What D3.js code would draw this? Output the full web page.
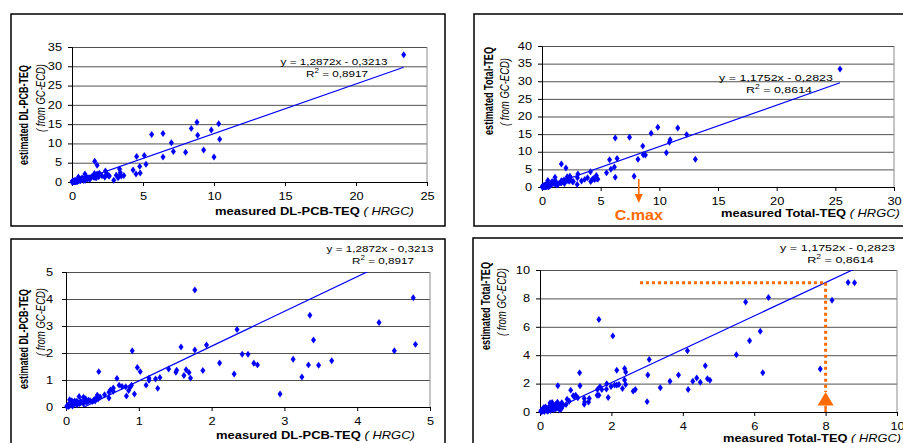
<!DOCTYPE html>
<html>
<head>
<meta charset="utf-8">
<script src="https://cdn.jsdelivr.net/npm/d3@7"></script>
<style>
  body { margin: 0; background: #fff; }
  svg { display: block; font-family: "Liberation Sans", Arial, sans-serif; }
</style>
</head>
<body>
<svg id="chart" width="903" height="443"></svg>
<script>
// measured (HRGC) vs estimated (GC-ECD) DL-PCB-TEQ
var dlPcbPoints = [
  [23.36,33.0],[8.8,15.5],[10.33,15.1],[8.4,13.9],[9.81,13.5],[5.61,12.3],[6.41,12.6],[8.85,12.1],
  [10.4,11.1],[7.0,10.2],[9.27,8.3],[7.14,7.9],[8.0,7.7],[6.41,6.5],[10.0,6.5],[5.09,6.9],[4.55,6.6],
  [5.21,4.6],[1.6,5.4],
  [1.77,4.33],[4.77,4.05],[3.35,3.40],[4.3,3.13],[2.35,2.87],[3.40,2.48],[4.80,2.32],[1.93,2.30],
  [1.58,2.22],[1.77,2.11],[0.91,2.08],[4.51,2.08],[2.42,1.95],[2.50,1.95],[2.11,1.63],[2.58,1.62],
  [2.63,1.56],[3.12,1.77],[3.65,1.71],[3.33,1.56],[3.47,1.55],[0.45,1.31],[0.98,1.46],[1.02,1.31],
  [1.41,1.41],[1.52,1.36],[1.51,1.29],[1.65,1.38],[1.69,1.28],[1.62,1.17],[1.71,1.07],[1.88,1.35],
  [2.31,1.22],[3.24,1.11],[0.70,1.06],[1.14,1.07],[1.14,0.99],[1.23,1.04],[1.29,1.09],[1.10,0.81],
  [1.26,0.69],[2.94,0.48],[0.94,0.48],[0.83,0.41],[0.73,0.81],[0.77,0.76],[0.82,0.75],[0.90,0.81],
  [0.88,0.72],[0.86,0.61],[0.65,0.70],[0.65,0.58],[0.59,0.55],[0.53,0.45],[0.59,0.33],[0.61,0.63],
  [0.43,0.44],[0.42,0.33],[0.39,0.28],[0.31,0.25],[0.27,0.31],[0.18,0.39],[0.24,0.36],[0.05,0.27],
  [0.08,0.23],[0.15,0.21],[0.20,0.21],
  [0.01,0.03],[0.02,0.06],[0.03,0.02],[0.04,0.10],[0.05,0.05],[0.06,0.12],[0.07,0.08],[0.08,0.15],
  [0.09,0.04],[0.10,0.18],[0.11,0.10],[0.12,0.22],[0.13,0.14],[0.15,0.08],[0.16,0.17],[0.18,0.12],
  [0.20,0.15],[0.22,0.19],[0.24,0.12],[0.26,0.22],[0.28,0.18],[0.30,0.20],[0.33,0.23],[0.36,0.20],
  [0.38,0.24],[0.40,0.22],[0.44,0.30],[0.47,0.37]
];

// measured vs estimated Total-TEQ
var totalTeqPoints = [
  [25.4,33.5],[9.87,16.95],[11.57,16.76],[9.30,15.24],[12.33,14.86],[6.24,13.9],[7.46,14.1],
  [10.92,13.4],[10.86,12.67],[8.59,11.6],[10.6,9.7],[13.07,7.9],
  [8.63,9.12],[8.81,9.10],[6.40,8.06],[5.76,7.75],[8.18,7.87],[1.65,6.52],[6.17,5.69],[2.04,5.36],
  [5.87,5.02],[4.13,4.31],[5.50,4.03],[3.06,3.70],[4.63,3.25],[7.85,3.03],[1.11,2.77],[2.15,2.94],
  [2.37,3.06],[2.40,2.82],[6.24,2.77],[3.02,2.61],[3.88,2.61],[4.39,2.39],[4.69,2.35],[4.76,2.23],
  [2.37,2.25],[3.64,2.16],[4.28,2.16],[4.49,2.09],[1.87,1.99],[2.15,1.90],[2.09,1.90],[2.21,1.94],
  [2.40,1.94],[1.99,1.80],[0.50,1.85],[1.12,1.85],[1.68,1.78],[0.86,1.54],[1.61,1.59],[1.73,1.59],
  [1.86,1.61],[2.31,1.66],[2.67,1.59],[2.61,1.47],[3.37,1.71],[4.15,1.59],[1.60,1.18],[1.65,1.18],
  [1.91,1.02],[3.0,0.73],[0.93,1.14],[0.96,1.07],[1.0,1.18],[1.06,1.0],[1.24,0.95],[1.24,0.55],
  [1.38,0.95],[1.36,0.71],[1.25,0.71],[0.76,0.9],[0.82,0.76],[0.73,0.52],[0.61,0.66],[0.49,0.69],
  [0.45,0.57],[0.30,0.59],[0.56,0.36],[0.59,0.24],[0.37,0.36],
  [0.02,0.05],[0.04,0.12],[0.05,0.02],[0.07,0.20],[0.08,0.08],[0.10,0.30],[0.11,0.14],[0.12,0.04],
  [0.14,0.22],[0.15,0.35],[0.17,0.10],[0.19,0.28],[0.20,0.18],[0.22,0.06],[0.24,0.32],[0.25,0.15],
  [0.27,0.24],[0.28,0.64],[0.29,0.10],[0.31,0.40],[0.33,0.20],[0.34,0.67],[0.35,0.28],[0.38,0.15],
  [0.40,0.45],[0.42,0.30],[0.44,0.22],[0.46,0.35],[0.50,0.28],[0.52,0.45],[0.55,0.15],[0.56,0.47],
  [0.58,0.40],[0.60,0.24],[0.65,0.47]
];

// trendlines printed on the charts
var dlPcbFit = { slope: 1.2872, intercept: -0.3213, r2: 0.8917 };
var totalTeqFit = { slope: 1.1752, intercept: -0.2823, r2: 0.8614 };

// tick labels
var dlPcbXTicks = [0, 5, 10, 15, 20, 25];
var dlPcbYTicks = [0, 5, 10, 15, 20, 25, 30, 35];
var totalXTicks = [0, 5, 10, 15, 20, 25, 30];
var totalYTicks = [0, 5, 10, 15, 20, 25, 30, 35, 40];
var zoomDlTicks = [0, 1, 2, 3, 4, 5];
var zoomTotalTicks = [0, 2, 4, 6, 8, 10];

// orange annotations
var cMaxTop = 8.25;                  // arrow under the top-right chart
var cMaxZoom = { x: 8, y: 9.1, fromX: 2.8, arrowTip: 1.4, arrowBase: 0.45 };

// Colors
var blue = "#0000ff";
var orange = "#ff6a00";
var gridColor = "#505050";

var sx = 1.28; // picture is stretched sideways, text too

var panels = [
  { frame: {x: 11, y: 14, w: 434, h: 212}, plot: {l: 72, r: 427, t: 47, b: 182},
    data: dlPcbPoints, fit: dlPcbFit, xTicks: dlPcbXTicks, yTicks: dlPcbYTicks, yPad: 6,
    xName: "measured DL-PCB-TEQ", yName: "estimated DL-PCB-TEQ",
    eq: {x: 334, y: 64.5, w: 107}, xTitle: {x: 215, y: 215, w: 199},
    yTitle: {x: 24, y: 115, x2: 41, y2: 98, len: 100} },
  { frame: {x: 474, y: 14, w: 460, h: 212}, plot: {l: 542, r: 894, t: 46, b: 187},
    data: totalTeqPoints, fit: totalTeqFit, xTicks: totalXTicks, yTicks: totalYTicks, yPad: 6,
    xName: "measured Total-TEQ", yName: "estimated Total-TEQ",
    eq: {x: 776, y: 80.5, w: 114}, xTitle: {x: 721, y: 217, w: 179},
    yTitle: {x: 488.5, y: 91, x2: 505, y2: 92, len: 88} },
  { frame: {x: 11, y: 239, w: 434, h: 250}, plot: {l: 66, r: 430, t: 272, b: 407},
    data: dlPcbPoints, fit: dlPcbFit, xTicks: zoomDlTicks, yTicks: zoomDlTicks, yPad: 9,
    xName: "measured DL-PCB-TEQ", yName: "estimated DL-PCB-TEQ",
    eq: {x: 380, y: 251.5, w: 107}, xTitle: {x: 216, y: 439, w: 199},
    yTitle: {x: 24, y: 339, x2: 41, y2: 322, len: 100} },
  { frame: {x: 473, y: 238, w: 460, h: 250}, plot: {l: 540, r: 897, t: 270, b: 412},
    data: totalTeqPoints, fit: totalTeqFit, xTicks: zoomTotalTicks, yTicks: zoomTotalTicks, yPad: 6,
    xName: "measured Total-TEQ", yName: "estimated Total-TEQ",
    eq: {x: 837.5, y: 250.5, w: 115}, xTitle: {x: 723, y: 441.5, w: 178},
    yTitle: {x: 485.5, y: 306, x2: 502, y2: 302, len: 88} }
];

var svg = d3.select("#chart");
var comma = function(v, n) { return v.toFixed(n).replace(".", ","); };

// stretch text sideways around its own anchor
var stretch = function(sel, k) {
  k = k || sx;
  sel.each(function() {
    var t = d3.select(this);
    var x = +t.attr("x") || 0, y = +t.attr("y") || 0;
    t.attr("transform", "translate(" + x + "," + y + ") scale(" + k + ",1)")
     .attr("x", 0).attr("y", 0);
  });
};
// stretch factor that makes a text as wide as in the picture
var widthFactor = function(sel, w) {
  return w / sel.node().getComputedTextLength();
};

panels.forEach(function(p, i) {
  var xScale = d3.scaleLinear()
                 .domain([0, d3.max(p.xTicks)])
                 .range([p.plot.l, p.plot.r]);
  var yScale = d3.scaleLinear()
                 .domain([0, d3.max(p.yTicks)])
                 .range([p.plot.b, p.plot.t]);
  var g = svg.append("g").attr("class", "panel");

  // frame
  g.append("rect")
   .attr("x", p.frame.x).attr("y", p.frame.y)
   .attr("width", p.frame.w).attr("height", p.frame.h)
   .style("fill", "none").style("stroke", "#000").style("stroke-width", 1.5);

  // gridlines
  g.append("g")
   .attr("transform", "translate(" + p.plot.l + ",0)")
   .call(d3.axisLeft(yScale).tickValues(p.yTicks).tickSize(-(p.plot.r - p.plot.l)).tickFormat(""))
   .call(function(a) { a.select(".domain").remove(); })
   .selectAll("line").style("stroke", gridColor);
  g.append("line")
   .attr("x1", p.plot.r).attr("x2", p.plot.r)
   .attr("y1", p.plot.t).attr("y2", p.plot.b)
   .style("stroke", "#8c8c8c");

  // axes
  var yAxis = g.append("g")
               .attr("transform", "translate(" + p.plot.l + ",0)")
               .call(d3.axisLeft(yScale).tickValues(p.yTicks).tickSize(4).tickPadding(p.yPad)
                       .tickFormat(d3.format("d")));
  var xAxis = g.append("g")
               .attr("transform", "translate(0," + p.plot.b + ")")
               .call(d3.axisBottom(xScale).tickValues(p.xTicks).tickSize(4).tickPadding(7)
                       .tickFormat(d3.format("d")));
  [yAxis, xAxis].forEach(function(a) {
    a.attr("font-family", null).attr("font-size", 10);
    a.selectAll("text").style("fill", "#000").call(stretch);
    a.selectAll("line, path").style("stroke", "#000");
  });

  // trendline
  var clipId = "clip" + i;
  g.append("clipPath").attr("id", clipId)
   .append("rect")
   .attr("x", p.plot.l).attr("y", p.plot.t)
   .attr("width", p.plot.r - p.plot.l).attr("height", p.plot.b - p.plot.t);
  var xEnd = d3.max(p.data, function(d) { return d[0]; });
  g.append("line")
   .attr("clip-path", "url(#" + clipId + ")")
   .attr("x1", xScale(0)).attr("y1", yScale(p.fit.intercept))
   .attr("x2", xScale(xEnd)).attr("y2", yScale(p.fit.slope * xEnd + p.fit.intercept))
   .style("stroke", blue).style("stroke-width", 1.2);

  // points
  var visible = p.data.filter(function(d) {
    return d[0] <= xScale.domain()[1] && d[1] <= yScale.domain()[1];
  });
  g.selectAll("path.pt")
   .data(visible)
   .enter()
   .append("path")
   .attr("class", "pt")
   .attr("d", d3.symbol().type(d3.symbolDiamond).size(14))
   .attr("transform", function(d) {
     return "translate(" + xScale(d[0]) + "," + yScale(d[1]) + ") scale(1.25,1)";
   })
   .style("fill", blue);

  // equation
  var eq1 = g.append("text")
             .attr("x", p.eq.x).attr("y", p.eq.y)
             .attr("font-size", 9.5).attr("text-anchor", "middle")
             .text("y = " + comma(p.fit.slope, 4) + "x - " + comma(-p.fit.intercept, 4));
  var eq2 = g.append("text")
             .attr("x", p.eq.x + 3).attr("y", p.eq.y + 12)
             .attr("font-size", 9.5).attr("text-anchor", "middle");
  eq2.append("tspan").text("R");
  eq2.append("tspan").attr("dy", -4).attr("font-size", 6.5).text("2");
  eq2.append("tspan").attr("dy", 4).text(" = " + comma(p.fit.r2, 4));
  var kEq = widthFactor(eq1, p.eq.w);
  stretch(eq1, kEq); stretch(eq2, kEq);

  // x title
  var xt = g.append("text")
            .attr("x", p.xTitle.x).attr("y", p.xTitle.y)
            .attr("font-size", 10.5);
  xt.append("tspan").attr("font-weight", "bold").text(p.xName);
  xt.append("tspan").attr("font-style", "italic").text(" ( HRGC)");
  stretch(xt, widthFactor(xt, p.xTitle.w));

  // y title
  g.append("text")
   .attr("transform", "translate(" + p.yTitle.x + "," + p.yTitle.y + ") scale(" + sx + ",1) rotate(-90)")
   .attr("text-anchor", "middle").attr("dy", "0.35em")
   .attr("font-size", 10).attr("font-weight", "bold")
   .attr("textLength", p.yTitle.len).attr("lengthAdjust", "spacingAndGlyphs")
   .text(p.yName);
  g.append("text")
   .attr("transform", "translate(" + p.yTitle.x2 + "," + p.yTitle.y2 + ") scale(" + sx + ",1) rotate(-90)")
   .attr("text-anchor", "middle").attr("dy", "0.35em")
   .attr("font-size", 9.5).attr("font-style", "italic")
   .text("( from GC-ECD)");

  p.xScale = xScale;
  p.yScale = yScale;
});

// C.max arrow under the top-right chart
var top2 = panels[1];
var cx = top2.xScale(cMaxTop);
svg.append("line")
   .attr("x1", cx).attr("x2", cx)
   .attr("y1", top2.plot.b - 8).attr("y2", top2.plot.b + 8)
   .style("stroke", orange).style("stroke-width", 1.5);
svg.append("path")
   .attr("d", d3.line()([[cx - 4, top2.plot.b + 7], [cx + 4, top2.plot.b + 7], [cx, top2.plot.b + 16]]) + "Z")
   .style("fill", orange);
svg.append("text")
   .attr("x", cx).attr("y", top2.plot.b + 33)
   .attr("text-anchor", "middle")
   .attr("font-size", 14).attr("font-weight", "bold")
   .style("fill", orange)
   .text("C.max")
   .call(stretch, 1.15);

// dotted read-off lines in the bottom-right chart
var z = panels[3];
var ax = z.xScale(cMaxZoom.x), ay = z.yScale(cMaxZoom.y);
svg.append("line")
   .attr("x1", z.xScale(cMaxZoom.fromX)).attr("x2", ax)
   .attr("y1", ay).attr("y2", ay)
   .style("stroke", orange).style("stroke-width", 3).style("stroke-dasharray", "3,3");
svg.append("line")
   .attr("x1", ax).attr("x2", ax)
   .attr("y1", ay).attr("y2", z.yScale(cMaxZoom.arrowTip))
   .style("stroke", orange).style("stroke-width", 3).style("stroke-dasharray", "3,3");
svg.append("path")
   .attr("d", d3.line()([[ax, z.yScale(cMaxZoom.arrowTip)],
                         [ax + 8, z.yScale(cMaxZoom.arrowBase)],
                         [ax - 8, z.yScale(cMaxZoom.arrowBase)]]) + "Z")
   .style("fill", orange);
svg.append("line")
   .attr("x1", ax).attr("x2", ax)
   .attr("y1", z.yScale(cMaxZoom.arrowBase)).attr("y2", z.yScale(0))
   .style("stroke", orange).style("stroke-width", 2.5);
</script>
</body>
</html>
